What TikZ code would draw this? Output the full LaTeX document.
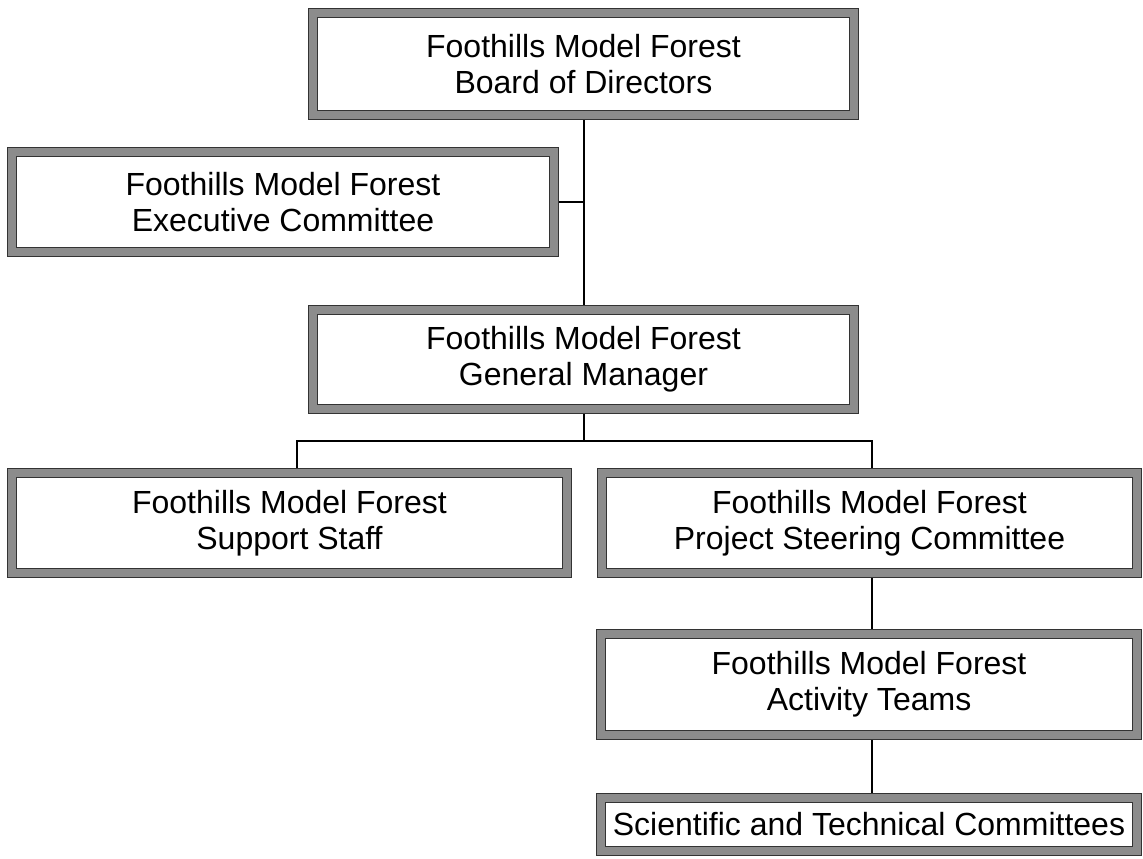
\documentclass[tikz,border=0pt]{standalone}
\usepackage{fontspec}
\setmainfont{Liberation Sans}
\begin{document}
\begin{tikzpicture}[x=0.5pt,y=-0.5pt,
  orgbox/.style={rectangle, draw=black!80, double=black!45, line width=0.5pt,
    double distance=4pt, fill=white, inner sep=0pt, outer sep=2.5pt,
    align=center, font=\fontsize{16}{18}\selectfont},
  link/.style={line width=1pt, draw=black}]
\useasboundingbox (0,0) rectangle (1143,858);
\fill[white] (0,0) rectangle (1143,858);

\node[orgbox, minimum width=541*0.5pt, minimum height=102*0.5pt] (board) at (583.5,64)
  {Foothills Model Forest\\Board of Directors};
\node[orgbox, minimum width=542*0.5pt, minimum height=100*0.5pt] (exec) at (283,202)
  {Foothills Model Forest\\Executive Committee};
\node[orgbox, minimum width=541*0.5pt, minimum height=99*0.5pt] (gm) at (583.5,359.5)
  {Foothills Model Forest\\General Manager};
\node[orgbox, minimum width=555*0.5pt, minimum height=100*0.5pt] (support) at (289.5,523)
  {Foothills Model Forest\\Support Staff};
\node[orgbox, minimum width=535*0.5pt, minimum height=100*0.5pt] (psc) at (869.5,523)
  {Foothills Model Forest\\Project Steering Committee};
\node[orgbox, minimum width=536*0.5pt, minimum height=101*0.5pt] (act) at (869,684.5)
  {Foothills Model Forest\\Activity Teams};
\node[orgbox, minimum width=536*0.5pt, minimum height=53*0.5pt] (sci) at (869,824.5)
  {Scientific and Technical Committees};

\coordinate (busL) at (297,441);
\coordinate (busR) at (872,441);

\draw[link] (board.south) -- (gm.north);
\draw[link] (exec.east) -- (exec.east -| board.south);
\draw[link] (gm.south) -- (gm.south |- busL);
\draw[link] (busL |- support.north) -- (busL) -- (busR) -- (busR |- psc.north);
\draw[link] (busR |- psc.south) -- (busR |- act.north);
\draw[link] (busR |- act.south) -- (busR |- sci.north);
\end{tikzpicture}
\end{document}
